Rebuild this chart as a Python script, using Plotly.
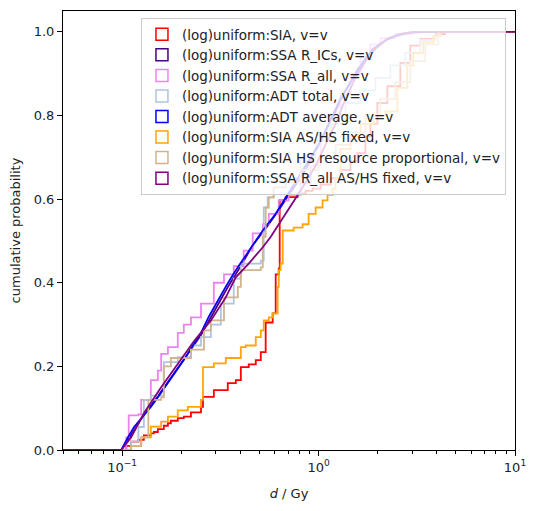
import plotly.graph_objects as go

# cumulative step curves (d in Gy, cumulative probability)
sia_d = [0.05, 0.105, 0.111, 0.121, 0.129, 0.140, 0.145, 0.152, 0.163, 0.171,
         0.177, 0.192, 0.206, 0.224, 0.252, 0.258, 0.293, 0.345, 0.379, 0.402,
         0.441, 0.479, 0.508, 0.538, 0.584, 0.605, 0.627, 0.634, 0.680, 0.782,
         0.859, 0.932, 1.024, 1.151, 1.293, 1.454, 1.577, 1.732, 1.836, 1.993,
         2.240, 2.608, 2.931, 3.295, 3.927, 4.412, 10.0]
sia_p = [0.0, 0.01, 0.02, 0.024, 0.035, 0.04, 0.043, 0.05, 0.058, 0.064,
         0.07, 0.076, 0.08, 0.09, 0.103, 0.127, 0.143, 0.16, 0.167, 0.198,
         0.205, 0.215, 0.234, 0.305, 0.327, 0.42, 0.434, 0.597, 0.605, 0.613,
         0.62, 0.625, 0.635, 0.65, 0.67, 0.69, 0.71, 0.75, 0.78, 0.83,
         0.87, 0.926, 0.967, 0.983, 0.995, 1.0, 1.0]

ssa_ics_d = [0.05, 0.099, 0.111, 0.129, 0.145, 0.163, 0.188, 0.216, 0.252, 0.293,
             0.345, 0.402, 0.462, 0.538, 0.619, 0.704, 0.810, 0.932, 1.085, 1.220,
             1.371, 1.577, 1.836, 2.188, 2.608, 3.035, 10.0]
ssa_ics_p = [0.0, 0.0, 0.035, 0.085, 0.115, 0.15, 0.19, 0.23, 0.275, 0.33,
             0.39, 0.44, 0.49, 0.53, 0.57, 0.61, 0.65, 0.70, 0.76, 0.81,
             0.86, 0.91, 0.95, 0.98, 0.995, 1.0, 1.0]

ssa_all_d = [0.05, 0.105, 0.108, 0.121, 0.125, 0.140, 0.152, 0.158, 0.171, 0.192,
             0.206, 0.224, 0.252, 0.293, 0.330, 0.370, 0.416, 0.462, 0.520, 0.558,
             0.627, 0.704, 0.810, 0.911, 1.024, 1.151, 1.293, 1.454, 1.634, 1.836,
             2.064, 2.460, 2.931, 10.0]
ssa_all_p = [0.0, 0.03, 0.083, 0.085, 0.12, 0.167, 0.19, 0.23, 0.246, 0.28,
             0.30, 0.317, 0.35, 0.40, 0.42, 0.44, 0.477, 0.518, 0.54, 0.565,
             0.597, 0.61, 0.637, 0.68, 0.74, 0.80, 0.85, 0.90, 0.94, 0.97,
             0.985, 0.995, 1.0, 1.0]

adt_total_d = [0.05, 0.111, 0.121, 0.129, 0.140, 0.163, 0.192, 0.224, 0.252, 0.283,
               0.318, 0.370, 0.402, 0.508, 0.526, 0.551, 0.591, 0.680, 0.810, 0.966,
               1.151, 1.371, 1.634, 1.947, 2.320, 2.765, 3.295, 3.927, 10.0]
adt_total_p = [0.0, 0.02, 0.055, 0.12, 0.13, 0.21, 0.222, 0.25, 0.27, 0.30,
               0.35, 0.41, 0.446, 0.453, 0.58, 0.604, 0.628, 0.65, 0.70, 0.74,
               0.78, 0.83, 0.86, 0.89, 0.92, 0.95, 0.98, 1.0, 1.0]

adt_avg_d = [0.05, 0.099, 0.107, 0.115, 0.125, 0.140, 0.154, 0.171, 0.188, 0.206,
             0.229, 0.252, 0.277, 0.307, 0.341, 0.379, 0.441, 0.520, 0.605, 0.680,
             0.747, 0.859, 1.0, 1.151, 1.293, 1.505, 1.692, 1.902, 2.188, 2.460,
             2.931, 3.493, 10.0]
adt_avg_p = [0.0, 0.0, 0.03, 0.055, 0.075, 0.103, 0.13, 0.16, 0.19, 0.215,
             0.25, 0.28, 0.32, 0.358, 0.395, 0.43, 0.477, 0.525, 0.565, 0.604,
             0.632, 0.68, 0.73, 0.79, 0.84, 0.89, 0.93, 0.96, 0.98, 0.99,
             0.998, 1.0, 1.0]

sia_fixed_d = [0.05, 0.111, 0.125, 0.140, 0.158, 0.171, 0.192, 0.216, 0.252, 0.258,
               0.293, 0.337, 0.402, 0.426, 0.479, 0.508, 0.526, 0.558, 0.584, 0.619,
               0.627, 0.641, 0.657, 0.747, 0.829, 0.890, 0.966, 1.048, 1.111, 1.178,
               1.220, 1.293, 1.454, 1.634, 1.902, 2.188, 2.518, 2.830, 3.035, 3.412,
               3.836, 4.162, 10.0]
sia_fixed_p = [0.0, 0.01, 0.03, 0.056, 0.068, 0.08, 0.095, 0.103, 0.12, 0.198,
               0.207, 0.22, 0.246, 0.25, 0.27, 0.286, 0.31, 0.317, 0.327, 0.39,
               0.43, 0.446, 0.525, 0.532, 0.54, 0.565, 0.58, 0.597, 0.61, 0.625,
               0.65, 0.72, 0.75, 0.78, 0.80, 0.81, 0.866, 0.92, 0.95, 0.975,
               0.99, 1.0, 1.0]

sia_hs_d = [0.05, 0.111, 0.125, 0.136, 0.158, 0.163, 0.177, 0.224, 0.261, 0.283,
            0.330, 0.388, 0.402, 0.508, 0.520, 0.538, 0.558, 0.591, 0.680, 0.810,
            1.0, 1.220, 1.454, 1.732, 2.064, 2.460, 2.931, 3.493, 4.066, 10.0]
sia_hs_p = [0.0, 0.01, 0.03, 0.12, 0.126, 0.20, 0.22, 0.24, 0.286, 0.31,
            0.365, 0.39, 0.43, 0.437, 0.51, 0.58, 0.604, 0.628, 0.64, 0.67,
            0.70, 0.73, 0.76, 0.80, 0.84, 0.88, 0.93, 0.97, 1.0, 1.0]

ssa_all_fixed_d = [0.05, 0.099, 0.111, 0.129, 0.158, 0.192, 0.232, 0.283, 0.307, 0.337,
                   0.358, 0.379, 0.441, 0.520, 0.571, 0.627, 0.738, 0.829, 0.966, 1.085,
                   1.220, 1.371, 1.541, 1.732, 1.947, 2.266, 2.608, 3.108, 10.0]
ssa_all_fixed_p = [0.0, 0.0, 0.03, 0.088, 0.15, 0.207, 0.26, 0.31, 0.335, 0.365,
                   0.39, 0.413, 0.446, 0.485, 0.51, 0.54, 0.59, 0.628, 0.68, 0.73,
                   0.78, 0.84, 0.89, 0.93, 0.96, 0.985, 0.995, 1.0, 1.0]

names = [
    "(log)uniform:SIA, v=v",
    "(log)uniform:SSA R_ICs, v=v",
    "(log)uniform:SSA R_all, v=v",
    "(log)uniform:ADT total, v=v",
    "(log)uniform:ADT average, v=v",
    "(log)uniform:SIA AS/HS fixed, v=v",
    "(log)uniform:SIA HS resource proportional, v=v",
    "(log)uniform:SSA R_all AS/HS fixed, v=v",
]
colors = ["red", "indigo", "violet", "lightsteelblue", "blue", "orange", "tan", "purple"]
# the densely binned curves look like smooth lines at this size
shapes = ["hv", "linear", "hv", "hv", "linear", "hv", "hv", "linear"]
series = [
    (sia_d, sia_p),
    (ssa_ics_d, ssa_ics_p),
    (ssa_all_d, ssa_all_p),
    (adt_total_d, adt_total_p),
    (adt_avg_d, adt_avg_p),
    (sia_fixed_d, sia_fixed_p),
    (sia_hs_d, sia_hs_p),
    (ssa_all_fixed_d, ssa_all_fixed_p),
]

fig = go.Figure()

for (d, p), name, color, shape in zip(series, names, colors, shapes):
    fig.add_trace(go.Scatter(
        x=d, y=p, mode="lines", line=dict(color=color, width=1.8, shape=shape),
        name=name, showlegend=False, hoverinfo="skip",
    ))

# legend entries with rectangle patches, like a step histogram legend
for name, color in zip(names, colors):
    fig.add_trace(go.Bar(
        x=[None], y=[None], name=name,
        marker=dict(color="rgba(0,0,0,0)", line=dict(color=color, width=1.5)),
    ))

# page body adds 8px, so the figure is a bit smaller than the window
fig.update_layout(
    width=533,
    height=503,
    margin=dict(l=52, r=26, t=2, b=61),
    paper_bgcolor="white",
    plot_bgcolor="white",
    font=dict(family="DejaVu Sans", size=13, color="#222"),
    showlegend=True,
    legend=dict(
        x=0.98, y=0.984, xanchor="right", yanchor="top",
        bgcolor="rgba(255,255,255,0.8)", bordercolor="#cccccc", borderwidth=1,
        font=dict(size=13.5, color="#222"),
    ),
)

fig.update_xaxes(
    type="log",
    range=[-1.30103, 1],
    tickvals=[0.1, 1, 10],
    ticktext=["10<sup>\u22121</sup>", "10<sup>0</sup>", "10<sup>1</sup>"],
    ticks="outside", ticklen=5, tickcolor="black",
    minor=dict(ticks="outside", ticklen=3, tickcolor="black", dtick="D1", showgrid=False),
    showline=True, linecolor="black", linewidth=1, mirror=True,
    showgrid=False, zeroline=False,
    title=dict(text="<i>d</i> / Gy", font=dict(size=13)),
)
fig.update_yaxes(
    range=[0, 1.05],
    tickvals=[0, 0.2, 0.4, 0.6, 0.8, 1.0],
    tickformat=".1f",
    ticks="outside", ticklen=5, tickcolor="black",
    showline=True, linecolor="black", linewidth=1, mirror=True,
    showgrid=False, zeroline=False,
    title=dict(text="cumulative probability", font=dict(size=13)),
)

fig.write_html("out.html")
